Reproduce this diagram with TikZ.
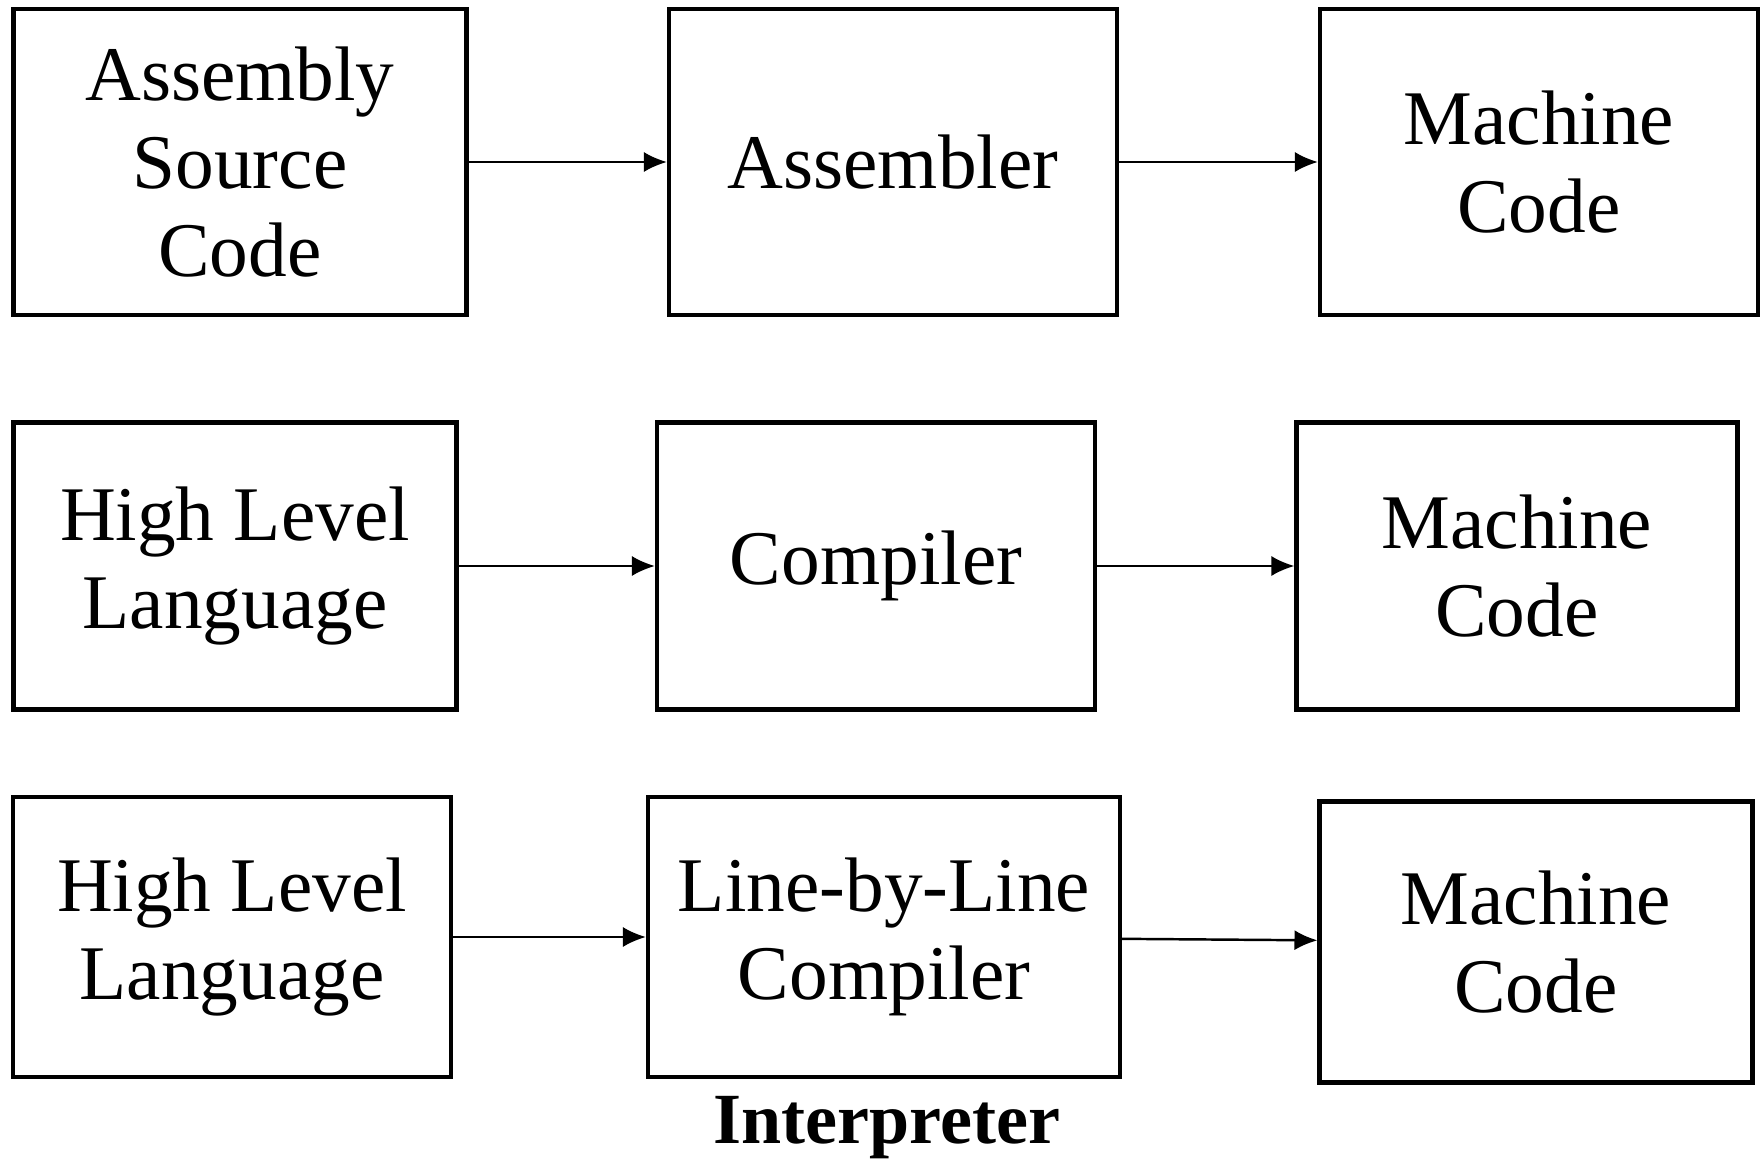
\documentclass[tikz,border=0pt]{standalone}
\usepackage{fontspec}
\setmainfont{Liberation Serif}
\usepackage{tikz}
\usetikzlibrary{arrows.meta}
\definecolor{stageline}{RGB}{0,0,0}
\tikzset{
 stage/.style={draw=stageline, line width=1.15pt, fill=white,
        minimum height=3.06cm, inner sep=0pt, align=center,
        font=\fontsize{22}{25}\selectfont},
 flow/.style={draw=stageline, line width=0.7pt,
        -{Latex[length=2.3mm,width=2mm]}},
 caption/.style={font=\fontsize{20.5}{24}\selectfont\bfseries, inner sep=0pt},
}
\begin{document}
\begin{tikzpicture}
\useasboundingbox (0,0) rectangle (17.6,-11.6);
% Assembly row
\node[stage, minimum width=4.53cm] (a1) at (2.40,-1.62) {Assembly\\Source\\Code};
\node[stage, minimum width=4.48cm] (a2) at (8.93,-1.62) {Assembler};
\node[stage, minimum width=4.38cm] (a3) at (15.39,-1.62) {Machine\\Code};
% Compiler row
\node[stage, minimum width=4.43cm, minimum height=2.87cm] (b1) at (2.35,-5.66) {High Level\\Language};
\node[stage, minimum width=4.38cm, minimum height=2.87cm] (b2) at (8.76,-5.66) {Compiler};
\node[stage, minimum width=4.41cm, minimum height=2.87cm] (b3) at (15.17,-5.66) {Machine\\Code};
% Interpreter row
\node[stage, minimum width=4.38cm, minimum height=2.80cm] (c1) at (2.32,-9.37) {High Level\\Language};
\node[stage, minimum width=4.72cm, minimum height=2.80cm] (c2) at (8.84,-9.37) {Line-by-Line\\Compiler};
\node[stage, minimum width=4.33cm, minimum height=2.81cm] (c3) at (15.36,-9.42) {Machine\\Code};
\node[caption] (interp) at (8.87,-11.28) {Interpreter};
\foreach \r in {a,b,c}{
 \draw[flow] (\r1) -- (\r2);
 \draw[flow] (\r2) -- (\r3);
}
\end{tikzpicture}
\end{document}
